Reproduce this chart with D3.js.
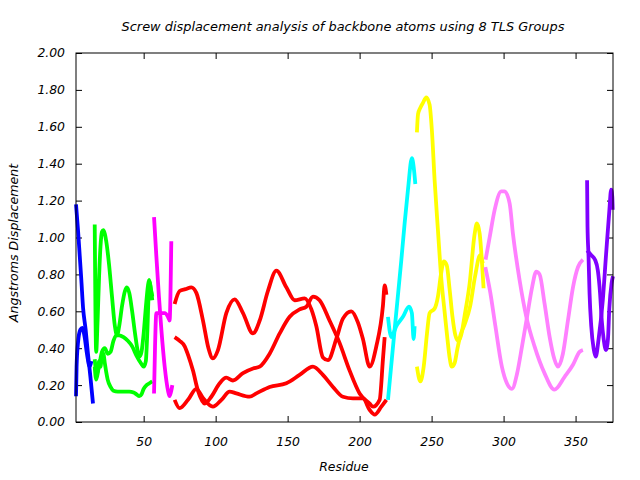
<!DOCTYPE html>
<html><head><meta charset="utf-8">
<script src="https://cdn.jsdelivr.net/npm/d3@7"></script>
<style>
body{margin:0;background:#fff;}
text{font-family:"DejaVu Sans",sans-serif;font-style:italic;}
</style></head>
<body><svg id="c" width="640" height="480"></svg>
<script>
const title = "Screw displacement analysis of backbone atoms using 8 TLS Groups";
const xLabel = "Residue";
const yLabel = "Angstroms Displacement";
const xTicks = [50,100,150,200,250,300,350];
const yTicks = [0,0.2,0.4,0.6,0.8,1.0,1.2,1.4,1.6,1.8,2.0];

const blue1 = [[3,1.18],[4.4,1.04],[5.6,0.90],[6.7,0.77],[7.9,0.62],[9.7,0.50],[11.3,0.37],[13,0.245],[14.8,0.10]];
const blue2 = [[3,0.14],[3.4,0.30],[4.4,0.43],[6,0.50],[7.4,0.51],[9,0.46],[10.6,0.37],[12.5,0.30],[13.7,0.33]];
const green1 = [[16,1.07],[16.5,0.6],[17,0.38],[18,0.55],[19,0.78],[20,0.95],[21,1.03],[22,1.04],[23,1.02],[24,0.98],[26,0.85],[28,0.68],[30,0.52],[31.5,0.47],[33,0.52],[35,0.63],[37,0.71],[38.3,0.73],[40,0.70],[42,0.60],[44,0.48],[46,0.38],[47.2,0.355],[48.5,0.38],[50,0.48],[51.5,0.62],[53,0.74],[53.8,0.77],[55,0.72],[56,0.68]];
const green2 = [[16,0.34],[17.5,0.26],[19,0.30],[21,0.38],[23,0.40],[25,0.37],[27,0.38],[29,0.44],[31,0.47],[33,0.47],[36,0.46],[39,0.44],[42,0.41],[45,0.36],[48,0.32],[50,0.30],[51.5,0.33],[52.5,0.48],[53.5,0.70],[54.2,0.76],[55,0.72],[56,0.66]];
const green3 = [[16,0.30],[17,0.23],[18,0.26],[19,0.33],[20,0.30],[21,0.36],[22,0.37],[23,0.32],[24,0.27],[25,0.23],[27,0.19],[29,0.17],[32,0.165],[36,0.165],[40,0.165],[43,0.16],[45,0.15],[47,0.14],[48.5,0.15],[50,0.18],[52,0.20],[54,0.21],[56,0.22]];
const magenta1 = [[57.2,1.11],[58.8,0.90],[60.6,0.68],[62.3,0.50],[64.6,0.30],[66.9,0.17],[68,0.14],[69.2,0.17],[69.9,0.20]];
const magenta2 = [[57.2,0.155],[57.9,0.41],[58.8,0.59],[61.1,0.59],[64.6,0.59],[66.9,0.57],[68,0.55],[69.2,0.98]];
const red1 = [[71.5,0.64],[75,0.71],[79,0.72],[83.1,0.73],[86.6,0.70],[91.2,0.55],[95,0.40],[98.1,0.345],[101.6,0.39],[107.4,0.59],[113.2,0.665],[119,0.59],[125.9,0.48],[130.6,0.55],[136.3,0.71],[142.2,0.82],[149.1,0.73],[154.9,0.66],[161.8,0.67],[166.5,0.61],[169.9,0.52],[174.5,0.35],[178,0.335],[183.8,0.45],[188.4,0.56],[194.2,0.60],[198.8,0.54],[202.3,0.45],[207,0.30],[211.6,0.41],[216.2,0.63],[217.4,0.74],[218.6,0.69]];
const red2 = [[71.5,0.46],[75,0.44],[78.5,0.41],[81,0.36],[84.2,0.28],[87.7,0.17],[92.4,0.10],[97,0.137],[102.8,0.21],[107.4,0.24],[112,0.225],[119,0.265],[126,0.29],[130.6,0.30],[137.5,0.37],[144.5,0.48],[151.4,0.57],[158.3,0.61],[163,0.625],[167.6,0.68],[172.2,0.66],[179.1,0.55],[186,0.43],[193,0.28],[200,0.155],[207,0.10],[209.3,0.083],[213.9,0.12],[216.2,0.34],[217.4,0.46]];
const red3 = [[71.5,0.12],[75,0.075],[80.8,0.12],[86.6,0.18],[91.2,0.13],[98.1,0.083],[104,0.12],[109.7,0.165],[114.4,0.155],[123.6,0.137],[128.3,0.155],[137.5,0.19],[149.1,0.21],[158.3,0.255],[167.6,0.30],[174.5,0.255],[181.5,0.19],[188.4,0.137],[195.4,0.128],[202.3,0.128],[207,0.065],[210.5,0.04],[215.1,0.083],[218.6,0.12]];
const cyan1 = [[219.7,0.12],[224.3,0.50],[229,0.88],[231.3,1.08],[233.6,1.26],[236.3,1.43],[237.5,1.385],[238.7,1.29]];
const cyan2 = [[219.7,0.57],[222,0.46],[225.5,0.52],[230.1,0.57],[234.3,0.625],[236.3,0.59],[237.5,0.45],[238.2,0.52]];
const yellow1 = [[239.8,1.57],[240.6,1.67],[242,1.70],[244,1.73],[246.3,1.76],[248.6,1.72],[250.2,1.58],[252.1,1.31],[254.4,1.04],[256.8,0.77],[259,0.60],[261,0.45],[262.5,0.35],[264,0.30],[266,0.32],[268,0.40],[270,0.47],[273,0.53],[276.7,0.625],[280.2,0.79],[283.7,0.905],[285.5,0.86]];
const yellow2 = [[239.8,0.30],[242.2,0.22],[244.5,0.30],[246.8,0.48],[248.6,0.59],[252.1,0.615],[254.4,0.68],[256.5,0.80],[258.5,0.87],[260.5,0.85],[262.5,0.72],[264.5,0.57],[266.5,0.47],[268.5,0.44],[270.5,0.47],[273,0.58],[276.4,0.75],[279.9,1.02],[281.5,1.077],[283.4,1.02],[285.2,0.84],[286.1,0.725]];
const pink1 = [[287.5,0.88],[290.3,1.00],[293.8,1.15],[298.4,1.25],[300.7,1.25],[304.2,1.185],[306.5,1.02],[311.1,0.77],[315.8,0.57],[321.5,0.41],[328.4,0.265],[335.3,0.175],[342.4,0.245],[348.2,0.31],[352.8,0.38],[355.1,0.39]];
const pink2 = [[287.3,0.84],[290.8,0.70],[294.3,0.52],[298.8,0.30],[302.3,0.21],[305.8,0.18],[309.3,0.26],[312.8,0.41],[316.3,0.57],[319.8,0.73],[322.7,0.815],[325,0.80],[328.5,0.64],[332,0.46],[335.3,0.34],[337.7,0.30],[341.2,0.37],[344.7,0.55],[348.2,0.73],[351.7,0.84],[355.1,0.88]];
const purple1 = [[358,1.31],[358.3,1.06],[359,0.90],[359.7,0.70],[360.9,0.52],[362.5,0.40],[364,0.354],[366,0.45],[368.9,0.66],[371.2,0.91],[373.5,1.15],[374.7,1.26],[375.5,1.22],[375.8,1.15]];
const purple2 = [[358,0.93],[360.8,0.905],[363.5,0.88],[365.5,0.82],[367,0.70],[368.2,0.55],[369.5,0.45],[371.1,0.39],[372.5,0.45],[373.4,0.61],[375,0.75],[376,0.79]];

const series = [
  {c:"#0000ff", d:[blue1, blue2]},
  {c:"#00ff00", d:[green1, green2, green3]},
  {c:"#ff00ff", d:[magenta1, magenta2]},
  {c:"#ff0000", d:[red1, red2, red3]},
  {c:"#00ffff", d:[cyan1, cyan2]},
  {c:"#ffff00", d:[yellow1, yellow2]},
  {c:"#ff80ff", d:[pink1, pink2]},
  {c:"#8000ff", d:[purple1, purple2]}
];

const L=76, R=613, T=53, B=422;
const svg = d3.select("#c");
const x = d3.scaleLinear().domain([3,376]).range([L,R]);
const y = d3.scaleLinear().domain([0,2]).range([B,T]);

const fmt = d3.format(".2f");
const gx = svg.append("g").attr("transform",`translate(0,${B})`)
  .call(d3.axisBottom(x).tickValues(xTicks).tickSize(-6).tickPadding(15).tickFormat(d3.format("d")));
const gxt = svg.append("g").attr("transform",`translate(0,${T})`)
  .call(d3.axisTop(x).tickValues(xTicks).tickSize(-6).tickFormat(""));
const gy = svg.append("g").attr("transform",`translate(${L},0)`)
  .call(d3.axisLeft(y).tickValues(yTicks).tickSize(-6).tickPadding(11).tickFormat(fmt));
const gyr = svg.append("g").attr("transform",`translate(${R},0)`)
  .call(d3.axisRight(y).tickValues(yTicks).tickSize(-6).tickFormat(""));
[gx,gxt,gy,gyr].forEach(g=>{
  g.select(".domain").remove();
  g.selectAll("line").attr("stroke","#000");
  g.selectAll("text").attr("font-size",12.4).attr("font-style","italic")
   .attr("font-family","DejaVu Sans, sans-serif").attr("fill","#000");
});

const line = d3.line().x(d=>x(d[0])).y(d=>y(d[1])).curve(d3.curveMonotoneX);
const gLines = svg.append("g");
series.forEach(s=>{
  s.d.forEach(arr=>{
    gLines.append("path").attr("d",line(arr)).attr("fill","none")
      .attr("stroke",s.c).attr("stroke-width",3.8)
      .attr("stroke-linejoin","round").attr("stroke-linecap","butt");
  });
});

svg.append("rect").attr("x",L).attr("y",T).attr("width",R-L).attr("height",B-T)
  .attr("fill","none").attr("stroke","#000").attr("stroke-width",1);

svg.append("text").attr("x",343).attr("y",31).attr("text-anchor","middle")
  .attr("font-size",12.9).text(title);
svg.append("text").attr("x",344).attr("y",471).attr("text-anchor","middle")
  .attr("font-size",12.4).text(xLabel);
svg.append("text").attr("transform","translate(18,243) rotate(-90)").attr("text-anchor","middle")
  .attr("font-size",12.6).text(yLabel);
</script></body></html>
